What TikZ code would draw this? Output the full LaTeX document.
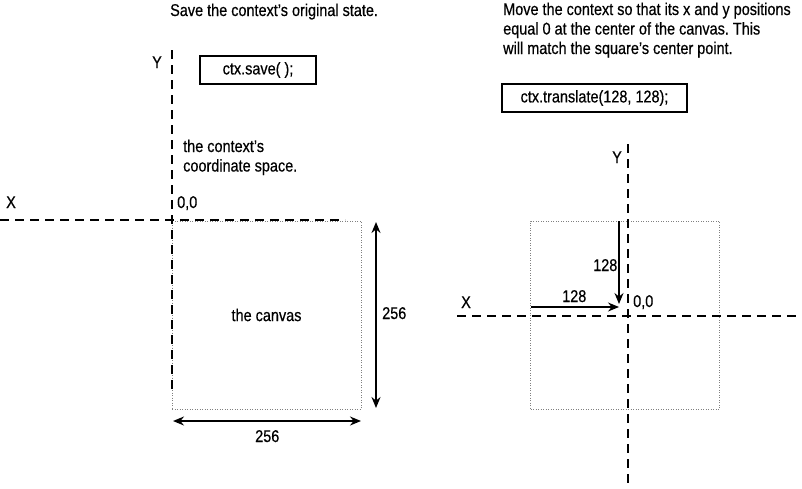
\documentclass[tikz,border=0pt]{standalone}
\usepackage{fontspec}
\setmainfont{Liberation Sans}[FakeStretch=0.85, FakeBold=0.5]
\usetikzlibrary{arrows.meta}
\frenchspacing

\begin{document}
\begin{tikzpicture}[x=1pt, y=-1pt,
    every node/.style={font=\fontsize{17}{19.5}\selectfont, inner sep=0pt},
    axis/.style={line width=1.8pt, dash pattern=on 9pt off 6pt},
    canvas/.style={draw=gray, line width=1pt, dash pattern=on 1pt off 1.5pt, minimum width=189pt, minimum height=188pt},
    code/.style={draw, line width=1.4pt, minimum height=28pt},
    dim/.style={line width=1.6pt, {Stealth[length=11pt, width=9pt]}-{Stealth[length=11pt, width=9pt]}},
    move/.style={line width=1.2pt, -{Stealth[length=11pt, width=9pt]}}]
    \useasboundingbox (0, 0) rectangle (802, 488);

    % before: ctx.save
    \node[anchor=base west] (titleL) at (170, 16) {Save the context’s original state.};
    \node[code, minimum width=116pt] (saveBox) at (258, 70) {ctx.save( );};
    \node[anchor=base west, align=left] (spaceL) at (183, 171.5) {the context’s\\coordinate space.};

    \node[canvas] (canvasL) at (266.5, 315) {the canvas};
    \coordinate (xL1) at (0, 220);
    \coordinate (xL2) at (345, 220);
    \coordinate (yL1) at (172, 50);
    \coordinate (yL2) at (172, 392);
    \draw[axis] (xL1) -- (xL2);
    \draw[axis] (yL1) -- (yL2);
    \node[anchor=base west] (xLabelL) at (6, 208) {X};
    \node[anchor=base west] (yLabelL) at (152, 68) {Y};
    \node[anchor=base west] (originL) at (177, 208) {0,0};

    \coordinate (hTop) at (376, 222);
    \coordinate (hBot) at (376, 408);
    \coordinate (wLeft) at (173, 421);
    \coordinate (wRight) at (361, 421);
    \draw[dim] (hTop) -- (hBot);
    \draw[dim] (wLeft) -- (wRight);
    \node[anchor=base west] (heightL) at (382, 319) {256};
    \node[anchor=base west] (widthL) at (255, 442) {256};

    % after: ctx.translate
    \node[anchor=base west, align=left] (titleR) at (503, 54) {Move the context so that its x and y positions\\equal 0 at the center of the canvas. This\\will match the square’s center point.};
    \node[code, minimum width=185pt] (translateBox) at (594.5, 98) {ctx.translate(128, 128);};

    \node[canvas] (canvasR) at (625, 315) {};
    \coordinate (xR1) at (457, 316);
    \coordinate (xR2) at (802, 316);
    \coordinate (yR1) at (628, 144);
    \coordinate (yR2) at (628, 488);
    \draw[axis] (xR1) -- (xR2);
    \draw[axis] (yR1) -- (yR2);
    \node[anchor=base west] (xLabelR) at (461, 308) {X};
    \node[anchor=base west] (yLabelR) at (612, 163) {Y};
    \node[anchor=base west] (originR) at (633, 307) {0,0};

    \coordinate (downStart) at (619, 221);
    \coordinate (downEnd) at (619, 304);
    \coordinate (rightStart) at (531, 307);
    \coordinate (rightEnd) at (619, 307);
    \draw[move] (downStart) -- (downEnd);
    \draw[move] (rightStart) -- (rightEnd);
    \node[anchor=base west] (downLabel) at (593, 271) {128};
    \node[anchor=base west] (rightLabel) at (562, 302) {128};
\end{tikzpicture}
\end{document}
